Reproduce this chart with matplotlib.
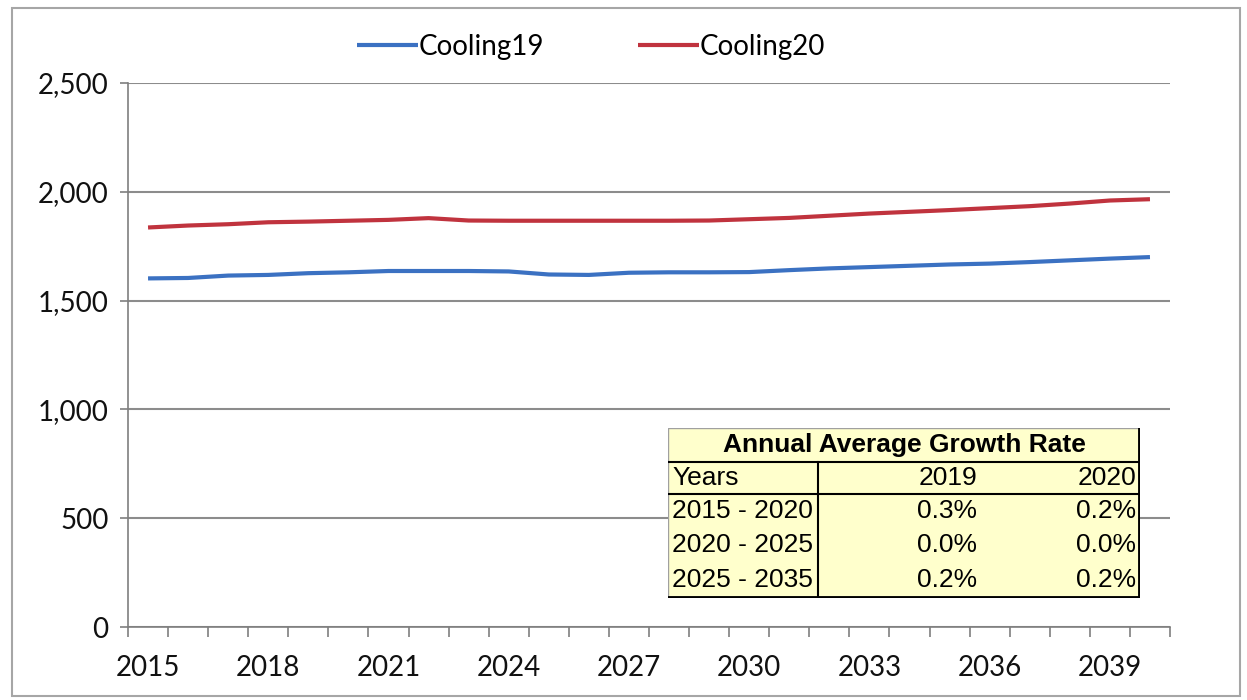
import numpy as np
import matplotlib.pyplot as plt
from matplotlib.patches import Rectangle

years = list(range(2015, 2041))
cooling19 = [1602, 1604, 1615, 1618, 1626, 1630, 1636, 1636, 1636, 1634, 1620, 1618, 1628,
             1630, 1630, 1631, 1640, 1648, 1654, 1660, 1666, 1670, 1677, 1685, 1693, 1700]
cooling20 = [1836, 1845, 1851, 1860, 1863, 1867, 1871, 1879, 1868, 1867, 1867, 1867, 1867,
             1867, 1868, 1874, 1880, 1890, 1900, 1908, 1916, 1925, 1934, 1946, 1960, 1966]

table_title = 'Annual Average Growth Rate'
table_header = ['Years', '2019', '2020']
table_periods = ['2015 - 2020', '2020 - 2025', '2025 - 2035']
rate19 = ['0.3%', '0.0%', '0.2%']
rate20 = ['0.2%', '0.0%', '0.2%']

W, H = 1247, 700
fig = plt.figure(figsize=(W / 100, H / 100), dpi=100)
fig.patches.append(Rectangle((12 / W, 1 - 696 / H), 1228 / W, 688 / H, transform=fig.transFigure,
                             fill=False, edgecolor='#a6a6a6', lw=1.5))

ax = fig.add_axes([128 / W, 1 - 627 / H, 1042 / W, 544 / H])
x = np.arange(len(years))
ax.plot(x, cooling19, color='#3b71c2', lw=3, label='Cooling19', solid_capstyle='butt')
ax.plot(x, cooling20, color='#c0333e', lw=3, label='Cooling20', solid_capstyle='butt')

ax.set_xlim(-0.5, len(years) - 0.5)
ax.set_ylim(0, 2500)
ax.set_yticks(np.arange(0, 2501, 500))
ax.set_yticklabels(['{:,}'.format(v) for v in range(0, 2501, 500)])
ax.yaxis.grid(True, color='#8c8c8c', lw=1.5)
ax.set_axisbelow(True)

ax.set_xticks(np.arange(-0.5, len(years), 1))
ax.set_xticklabels([])
ax.set_xticks(x[::3], minor=True)
ax.set_xticklabels([str(y) for y in years[::3]], minor=True)
ax.tick_params(axis='x', which='major', length=7, width=1.2, color='#7f7f7f', direction='out')
ax.tick_params(axis='x', which='minor', length=0, pad=20, labelsize=20)
ax.tick_params(axis='y', length=6, width=1.2, color='#7f7f7f', pad=8, labelsize=20)
for lab in ax.get_xticklabels(minor=True) + ax.get_yticklabels():
    lab.set_family('Lato')
    lab.set_color('#111111')

for s in ['top', 'right']:
    ax.spines[s].set_visible(False)
ax.spines['left'].set_color('#7f7f7f')
ax.spines['bottom'].set_color('#7f7f7f')
ax.spines['left'].set_linewidth(1.2)
ax.spines['bottom'].set_linewidth(1.2)

fig.legend(loc='center', bbox_to_anchor=(0.474, 0.933), ncol=2, frameon=False,
           prop={'family': 'Lato', 'size': 20}, handlelength=2.2, handletextpad=0.0,
           columnspacing=3.4)

# growth-rate table
tx0, ty0, tw, th = 668, 428, 472, 170
tab = fig.add_axes([tx0 / W, 1 - (ty0 + th) / H, tw / W, th / H])
tab.set_xlim(0, tw)
tab.set_ylim(th, 0)
tab.axis('off')
tab.add_patch(Rectangle((0, 0), tw, th, facecolor='#ffffcc', edgecolor='#a0a0a0', lw=1))
row_edges = [0, 34, 66, 100, 134, 170]
for yy in row_edges[1:3]:
    tab.plot([0, tw], [yy, yy], color='black', lw=1.5)
tab.plot([150, 150], [row_edges[1], th], color='black', lw=1.5)
tab.plot([tw, tw], [0, th], color='black', lw=3.5, solid_capstyle='projecting')
tab.plot([0, tw], [th, th], color='black', lw=3.5, solid_capstyle='projecting')

tfont = dict(family='Liberation Sans', size=19, color='black')
tab.text(tw / 2, 17, table_title, ha='center', va='center', weight='bold', **tfont)
tab.text(4, 50, table_header[0], ha='left', va='center', **tfont)
tab.text(309, 50, table_header[1], ha='right', va='center', **tfont)
tab.text(468, 50, table_header[2], ha='right', va='center', **tfont)
for i, (p, a, b) in enumerate(zip(table_periods, rate19, rate20)):
    yc = (row_edges[i + 2] + row_edges[i + 3]) / 2
    tab.text(4, yc, p, ha='left', va='center', **tfont)
    tab.text(309, yc, a, ha='right', va='center', **tfont)
    tab.text(468, yc, b, ha='right', va='center', **tfont)

fig.savefig('out.png', dpi=100)
